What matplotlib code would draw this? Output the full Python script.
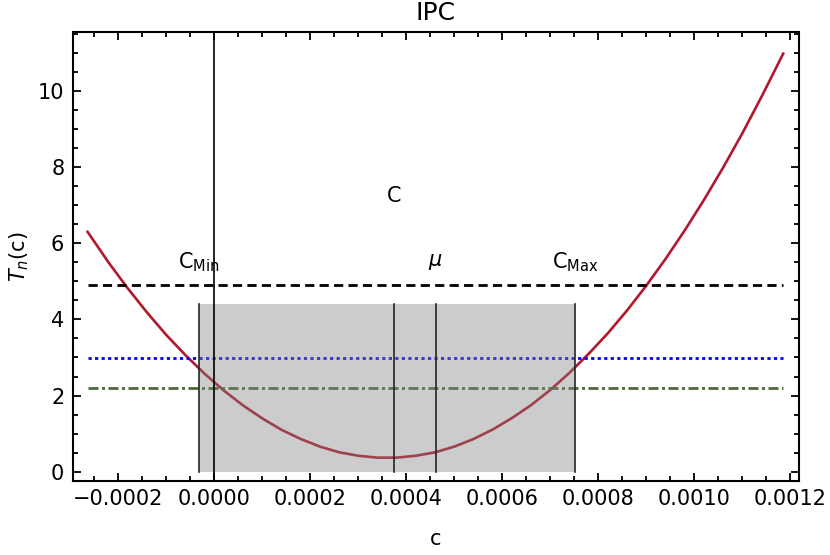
import numpy as np
import matplotlib.pyplot as plt
from matplotlib.ticker import MultipleLocator

# curve (c in units of 1e-4)
c_e4 = [-2.64, -2.2, -1.8, -1.4, -1.0, -0.6, -0.2, 0.2, 0.6, 1.0, 1.4, 1.8,
        2.2, 2.6, 3.0, 3.4, 3.8, 4.2, 4.6, 5.0, 5.4, 5.8, 6.2, 6.6, 7.0, 7.4,
        7.8, 8.2, 8.6, 9.0, 9.4, 9.8, 10.2, 10.6, 11.0, 11.4, 11.85]
tn = [6.30, 5.49, 4.81, 4.18, 3.59, 3.06, 2.57, 2.13, 1.74, 1.40, 1.10, 0.86,
      0.66, 0.51, 0.42, 0.37, 0.37, 0.42, 0.51, 0.66, 0.86, 1.11, 1.41, 1.75,
      2.15, 2.60, 3.10, 3.64, 4.24, 4.89, 5.59, 6.34, 7.14, 7.99, 8.89, 9.85,
      10.98]
c = np.array(c_e4) * 1e-4

level_dashed = 4.9
level_dotted = 2.98
level_dashdot = 2.2

c_min = -0.0000315
c_max = 0.000752
c_mid = 0.000375
mu = 0.000461
band_top = 4.4

plt.rcParams['font.family'] = 'DejaVu Sans'
plt.rcParams['font.size'] = 15
plt.rcParams['mathtext.fontset'] = 'dejavusans'

fig = plt.figure(figsize=(8.3, 5.55), dpi=100)
ax = fig.add_axes([0.0876, 0.1333, 0.8751, 0.8085])

ax.plot(c, tn, color='#b2182b', lw=1.9, zorder=2)

xs = [c[0], c[-1]]
ax.plot(xs, [level_dashed] * 2, color='black', lw=2.0, ls=(0, (3.3, 1.9)), zorder=2)
ax.plot(xs, [level_dotted] * 2, color='#0000ff', lw=2.0, ls=(0, (1.15, 1.2)), zorder=2)
ax.plot(xs, [level_dashdot] * 2, color='#4a6a3a', lw=2.0,
        ls=(0, (3.6, 1.25, 1.1, 1.25)), zorder=2)

ax.fill_between([c_min, c_max], 0, band_top, color='0.5', alpha=0.4, lw=0, zorder=3)
for xv in [c_min, c_mid, mu, c_max]:
    ax.plot([xv, xv], [0, band_top], color='0.15', lw=1.2, zorder=4)
ax.axvline(0, color='black', lw=1.2, zorder=4)

ax.text(c_min, 5.5, r'C$_{\mathregular{Min}}$', ha='center', va='center')
ax.text(mu, 5.5, r'$\mu$', ha='center', va='center')
ax.text(c_max, 5.5, r'C$_{\mathregular{Max}}$', ha='center', va='center')
ax.text(c_mid, 7.25, 'C', ha='center', va='center')

ax.set_xlim(-0.000295, 0.001218)
ax.set_ylim(-0.244, 11.54)
ax.xaxis.set_major_locator(MultipleLocator(0.0002))
ax.xaxis.set_minor_locator(MultipleLocator(0.00005))
ax.yaxis.set_major_locator(MultipleLocator(2))
ax.yaxis.set_minor_locator(MultipleLocator(0.5))
ax.xaxis.set_major_formatter(lambda v, p: f'{v:.4f}'.replace('-', '\u2212'))

ax.tick_params(which='both', direction='in', top=True, right=True, width=1.3)
ax.tick_params(which='major', length=6, pad=6)
ax.tick_params(which='minor', length=3.5)
for s in ax.spines.values():
    s.set_linewidth(1.5)

ax.set_title('IPC', pad=9)
ax.set_xlabel('c', labelpad=14)
ax.set_ylabel(r'$T_n$(c)', labelpad=5)

fig.savefig('out.png', dpi=100)
